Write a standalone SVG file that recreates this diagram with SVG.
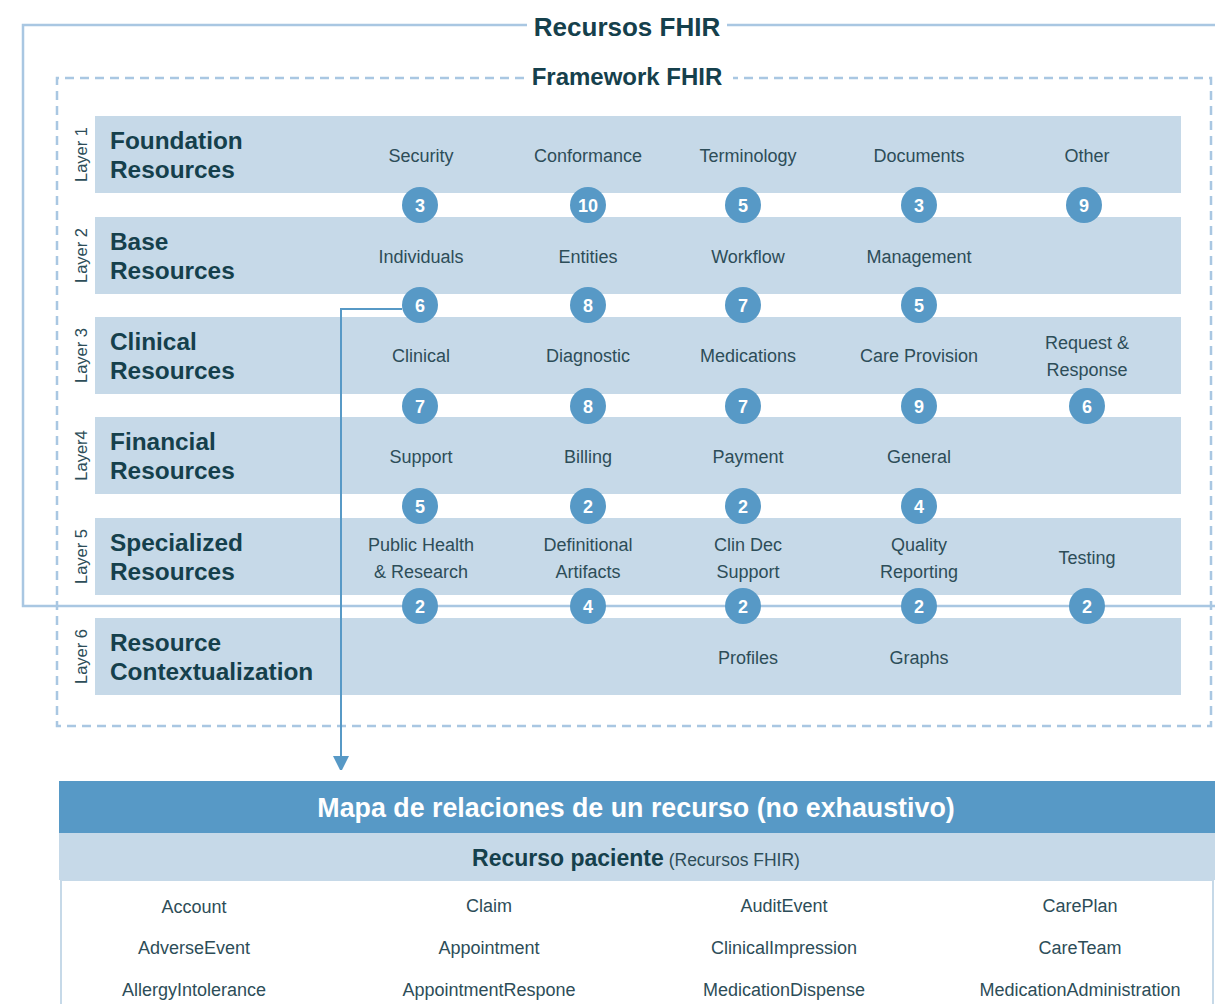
<svg xmlns="http://www.w3.org/2000/svg" width="1215" height="1004" viewBox="0 0 1215 1004">
<style>
text{font-family:"Liberation Sans",Arial,sans-serif}
.row{fill:#c6d9e8}
.frame{fill:none;stroke:#a9c7e2;stroke-width:2.5}
.dash{fill:none;stroke:#a9c7e2;stroke-width:2.5;stroke-dasharray:9 6}
.ttl{font-weight:bold;font-size:24.4px;fill:#15404c}
.big{font-weight:bold;font-size:26px;fill:#15404c;text-anchor:middle}
.lay{font-size:16.5px;fill:#2d4d58;text-anchor:middle}
.cat{font-size:18px;fill:#2d4d58;text-anchor:middle}
.bc{fill:#5799c6}
.bn{font-weight:bold;font-size:18px;fill:#fff;text-anchor:middle}
.conn{fill:none;stroke:#5799c6;stroke-width:2}
.item{font-size:18px;fill:#2d4d58;text-anchor:middle}
</style>
<defs>
<marker id="ah" markerWidth="14" markerHeight="16" refX="14" refY="8" orient="auto" markerUnits="userSpaceOnUse">
<path d="M0,0 L16,8 L0,16 Z" fill="#5799c6"/>
</marker>
</defs>

<g id="outer-frame">
<path class="frame" d="M527,25 H23 V606 H1215 M727,25 H1215"/>
<text class="big" x="627" y="36">Recursos FHIR</text>
</g>
<g id="framework-frame">
<path class="dash" d="M524,78 H57 V726 H1211 V78 H733"/>
<text class="big" x="627" y="85" style="font-size:24px">Framework FHIR</text>
</g>

<g id="layer1">
<rect class="row" x="95" y="116" width="1086" height="77"/>
<text class="lay" transform="translate(87,154.5) rotate(-90)">Layer 1</text>
<text class="ttl" x="110" y="149">Foundation</text>
<text class="ttl" x="110" y="178">Resources</text>
<text class="cat" x="421" y="162">Security</text>
<text class="cat" x="588" y="162">Conformance</text>
<text class="cat" x="748" y="162">Terminology</text>
<text class="cat" x="919" y="162">Documents</text>
<text class="cat" x="1087" y="162">Other</text>
</g>
<g id="layer2">
<rect class="row" x="95" y="217" width="1086" height="77"/>
<text class="lay" transform="translate(87,255.5) rotate(-90)">Layer 2</text>
<text class="ttl" x="110" y="250">Base</text>
<text class="ttl" x="110" y="279">Resources</text>
<text class="cat" x="421" y="263">Individuals</text>
<text class="cat" x="588" y="263">Entities</text>
<text class="cat" x="748" y="263">Workflow</text>
<text class="cat" x="919" y="263">Management</text>
</g>
<g id="layer3">
<rect class="row" x="95" y="317" width="1086" height="77"/>
<text class="lay" transform="translate(87,355.5) rotate(-90)">Layer 3</text>
<text class="ttl" x="110" y="350">Clinical</text>
<text class="ttl" x="110" y="379">Resources</text>
<text class="cat" x="421" y="362">Clinical</text>
<text class="cat" x="588" y="362">Diagnostic</text>
<text class="cat" x="748" y="362">Medications</text>
<text class="cat" x="919" y="362">Care Provision</text>
<text class="cat" x="1087" y="349">Request &amp;</text>
<text class="cat" x="1087" y="376">Response</text>
</g>
<g id="layer4">
<rect class="row" x="95" y="417" width="1086" height="77"/>
<text class="lay" transform="translate(87,455.5) rotate(-90)">Layer4</text>
<text class="ttl" x="110" y="450">Financial</text>
<text class="ttl" x="110" y="479">Resources</text>
<text class="cat" x="421" y="463">Support</text>
<text class="cat" x="588" y="463">Billing</text>
<text class="cat" x="748" y="463">Payment</text>
<text class="cat" x="919" y="463">General</text>
</g>
<g id="layer5">
<rect class="row" x="95" y="518" width="1086" height="77"/>
<text class="lay" transform="translate(87,556.5) rotate(-90)">Layer 5</text>
<text class="ttl" x="110" y="551">Specialized</text>
<text class="ttl" x="110" y="580">Resources</text>
<text class="cat" x="421" y="551">Public Health</text>
<text class="cat" x="421" y="578">&amp; Research</text>
<text class="cat" x="588" y="551">Definitional</text>
<text class="cat" x="588" y="578">Artifacts</text>
<text class="cat" x="748" y="551">Clin Dec</text>
<text class="cat" x="748" y="578">Support</text>
<text class="cat" x="919" y="551">Quality</text>
<text class="cat" x="919" y="578">Reporting</text>
<text class="cat" x="1087" y="564">Testing</text>
</g>
<g id="layer6">
<rect class="row" x="95" y="618" width="1086" height="77"/>
<text class="lay" transform="translate(87,656.5) rotate(-90)">Layer 6</text>
<text class="ttl" x="110" y="651">Resource</text>
<text class="ttl" x="110" y="680">Contextualization</text>
<text class="cat" x="748" y="664">Profiles</text>
<text class="cat" x="919" y="664">Graphs</text>
</g>

<g id="connectors">
<path class="conn" d="M402,309 H341 V770" marker-end="url(#ah)"/>
</g>

<g id="badges">
<circle class="bc" cx="420" cy="205" r="18"/><text class="bn" x="420" y="211.5">3</text>
<circle class="bc" cx="588" cy="205" r="18"/><text class="bn" x="588" y="211.5">10</text>
<circle class="bc" cx="743" cy="205" r="18"/><text class="bn" x="743" y="211.5">5</text>
<circle class="bc" cx="919" cy="205" r="18"/><text class="bn" x="919" y="211.5">3</text>
<circle class="bc" cx="1084" cy="205" r="18"/><text class="bn" x="1084" y="211.5">9</text>

<circle class="bc" cx="420" cy="305" r="18"/><text class="bn" x="420" y="311.5">6</text>
<circle class="bc" cx="588" cy="305" r="18"/><text class="bn" x="588" y="311.5">8</text>
<circle class="bc" cx="743" cy="305" r="18"/><text class="bn" x="743" y="311.5">7</text>
<circle class="bc" cx="919" cy="305" r="18"/><text class="bn" x="919" y="311.5">5</text>

<circle class="bc" cx="420" cy="406" r="18"/><text class="bn" x="420" y="412.5">7</text>
<circle class="bc" cx="588" cy="406" r="18"/><text class="bn" x="588" y="412.5">8</text>
<circle class="bc" cx="743" cy="406" r="18"/><text class="bn" x="743" y="412.5">7</text>
<circle class="bc" cx="919" cy="406" r="18"/><text class="bn" x="919" y="412.5">9</text>
<circle class="bc" cx="1087" cy="406" r="18"/><text class="bn" x="1087" y="412.5">6</text>

<circle class="bc" cx="420" cy="506" r="18"/><text class="bn" x="420" y="512.5">5</text>
<circle class="bc" cx="588" cy="506" r="18"/><text class="bn" x="588" y="512.5">2</text>
<circle class="bc" cx="743" cy="506" r="18"/><text class="bn" x="743" y="512.5">2</text>
<circle class="bc" cx="919" cy="506" r="18"/><text class="bn" x="919" y="512.5">4</text>

<circle class="bc" cx="420" cy="606" r="18"/><text class="bn" x="420" y="612.5">2</text>
<circle class="bc" cx="588" cy="606" r="18"/><text class="bn" x="588" y="612.5">4</text>
<circle class="bc" cx="743" cy="606" r="18"/><text class="bn" x="743" y="612.5">2</text>
<circle class="bc" cx="919" cy="606" r="18"/><text class="bn" x="919" y="612.5">2</text>
<circle class="bc" cx="1087" cy="606" r="18"/><text class="bn" x="1087" y="612.5">2</text>
</g>

<g id="relations-table">
<rect x="61" y="880" width="1152" height="140" fill="#fff" stroke="#c6d9e8" stroke-width="2"/>
<rect x="59" y="781" width="1156" height="52" fill="#5799c6"/>
<text x="636" y="817" style="font-size:26.8px;font-weight:bold;fill:#fff;text-anchor:middle">Mapa de relaciones de un recurso (no exhaustivo)</text>
<rect x="59" y="833" width="1156" height="47" fill="#c6d9e8"/>
<text x="636" y="866" style="text-anchor:middle;fill:#15404c"><tspan style="font-size:23px;font-weight:bold">Recurso paciente</tspan><tspan style="font-size:17.5px;fill:#2d4d58"> (Recursos FHIR)</tspan></text>
<text class="item" x="194" y="913">Account</text>
<text class="item" x="489" y="912">Claim</text>
<text class="item" x="784" y="912">AuditEvent</text>
<text class="item" x="1080" y="912">CarePlan</text>
<text class="item" x="194" y="954">AdverseEvent</text>
<text class="item" x="489" y="954">Appointment</text>
<text class="item" x="784" y="954">ClinicalImpression</text>
<text class="item" x="1080" y="954">CareTeam</text>
<text class="item" x="194" y="996">AllergyIntolerance</text>
<text class="item" x="489" y="996">AppointmentRespone</text>
<text class="item" x="784" y="996">MedicationDispense</text>
<text class="item" x="1080" y="996">MedicationAdministration</text>
</g>
</svg>
